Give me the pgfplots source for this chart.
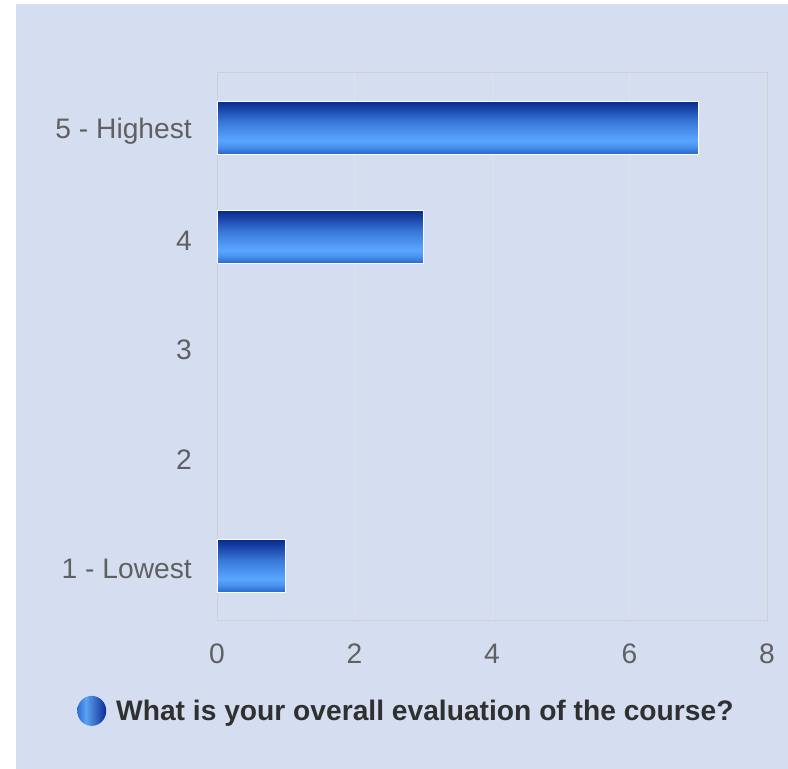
\documentclass[border=0pt]{standalone}
\usepackage{pgfplots}
\pgfplotsset{compat=1.18}
\usepackage{fontspec}
\setmainfont{Liberation Sans}
\definecolor{panel}{HTML}{D4DEF0}
\definecolor{gridc}{HTML}{E2E3E8}
\definecolor{axisc}{HTML}{CDCFD4}
\definecolor{tickc}{HTML}{606060}
\definecolor{legc}{HTML}{303030}
\definecolor{bB}{HTML}{2566C8}
\definecolor{bL2}{HTML}{4D95F0}
\definecolor{bL}{HTML}{5AA6FF}
\definecolor{bM}{HTML}{3A7ADA}
\definecolor{bD2}{HTML}{1A45A8}
\definecolor{bD}{HTML}{082B8C}
\definecolor{lA}{HTML}{2D6BD4}
\definecolor{lB}{HTML}{5CA2F2}
\definecolor{lC}{HTML}{0B2C94}
\pgfdeclareverticalshading{barshade}{100bp}{color(0bp)=(bB); color(25bp)=(bB); color(33bp)=(bL2); color(38bp)=(bL); color(55bp)=(bM); color(68bp)=(bD2); color(75bp)=(bD); color(100bp)=(bD)}
\pgfdeclarehorizontalshading{legshade}{100bp}{color(0bp)=(lA); color(25bp)=(lA); color(40bp)=(lB); color(75bp)=(lC); color(100bp)=(lC)}
\pgfplotsset{mybar/.style={xbar, bar width=53bp, bar shift=0pt, draw=white, line width=1.2bp, shading=barshade, mark=none}}
\begin{document}
\begin{tikzpicture}[x=1bp,y=1bp]
\fill[white] (0,0) rectangle (788,769);
\fill[panel] (16,0) rectangle (788,765);
\begin{axis}[
  at={(217bp,148bp)}, anchor=south west,
  scale only axis, width=550bp, height=548bp,
  xmin=0, xmax=8, ymin=0.5, ymax=5.5,
  xtick={0,2,4,6,8}, ytick={1,2,3,4,5},
  yticklabels={1 - Lowest,2,3,4,5 - Highest},
  major tick length=0pt,
  xmajorgrids, grid style={color=gridc, line width=1bp},
  axis line style={draw=axisc, line width=1bp},
  tick label style={font=\fontsize{28.3}{32}\selectfont, text=tickc},
  /pgf/number format/assume math mode=true,
  xticklabel style={inner sep=0pt, yshift=-23bp},
  yticklabel style={inner sep=0pt, xshift=-25bp, yshift=-3bp},
  legend style={draw=none, fill=none, inner sep=0pt,
    at={(axis description cs:-0.2545,-0.164)}, anchor=west,
    nodes={inner sep=0pt, font=\bfseries\fontsize{28.3}{32}\selectfont, text=legc},
    /tikz/every odd column/.append style={column sep=10bp}},
  legend image code/.code={\shade[draw=none, shading=legshade] (14.5bp,0bp) ellipse[x radius=14.5bp, y radius=15bp];},
]
\addplot[mybar] coordinates {(7,5)};
\addlegendentry{What is your overall evaluation of the course?}
\addplot[mybar] coordinates {(3,4)};
\addplot[mybar] coordinates {(1,1)};
\end{axis}
\end{tikzpicture}
\end{document}
